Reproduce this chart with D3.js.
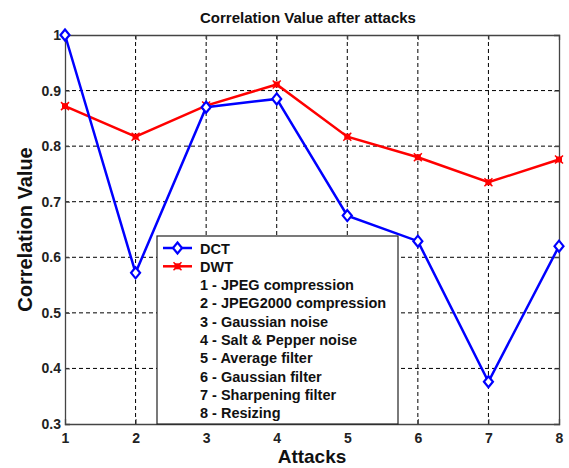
<!DOCTYPE html>
<html>
<head>
<meta charset="utf-8">
<script src="https://cdn.jsdelivr.net/npm/d3@7"></script>
<style>
  html, body { margin: 0; padding: 0; background: #fff; }
  svg { display: block; font-family: "Liberation Sans", Arial, sans-serif; }
</style>
</head>
<body>
<svg id="chart" width="569" height="468"></svg>
<script>
// Attack indices and correlation results for each watermarking scheme
const attacks = [1, 2, 3, 4, 5, 6, 7, 8];
const dctValues = [1.0, 0.572, 0.870, 0.885, 0.675, 0.629, 0.376, 0.620];
const dwtValues = [0.872, 0.817, 0.873, 0.911, 0.817, 0.780, 0.735, 0.776];
const yTicks = [0.3, 0.4, 0.5, 0.6, 0.7, 0.8, 0.9, 1];
const attackNames = [
  "1 - JPEG compression",
  "2 - JPEG2000 compression",
  "3 - Gaussian noise",
  "4 - Salt & Pepper noise",
  "5 - Average filter",
  "6 - Gaussian filter",
  "7 - Sharpening filter",
  "8 - Resizing"
];

const svg = d3.select("#chart");
const plot = { left: 65, right: 559, top: 35, bottom: 424 };

const x = d3.scaleLinear().domain([1, 8]).range([plot.left, plot.right]);
const y = d3.scaleLinear().domain([0.3, 1]).range([plot.bottom, plot.top]);

// Dashed grid
const grid = svg.append("g").attr("stroke", "#000").attr("stroke-width", 1)
  .attr("stroke-dasharray", "4,3");
grid.selectAll("line.v").data(attacks.slice(1, -1)).join("line")
  .attr("x1", d => x(d)).attr("x2", d => x(d))
  .attr("y1", plot.top).attr("y2", plot.bottom);
grid.selectAll("line.h").data(yTicks.slice(1, -1)).join("line")
  .attr("x1", plot.left).attr("x2", plot.right)
  .attr("y1", d => y(d)).attr("y2", d => y(d));

// Axes with inward ticks
const tickFmt = d => d === 1 ? "1" : d3.format(".1f")(d);
const xAxis = svg.append("g").attr("transform", `translate(0,${plot.bottom})`)
  .call(d3.axisBottom(x).tickValues(attacks).tickSize(-5).tickPadding(9).tickFormat(d3.format("d")));
const yAxis = svg.append("g").attr("transform", `translate(${plot.left},0)`)
  .call(d3.axisLeft(y).tickValues(yTicks).tickSize(-5).tickPadding(4).tickFormat(tickFmt));
const xTop = svg.append("g").attr("transform", `translate(0,${plot.top})`)
  .call(d3.axisTop(x).tickValues(attacks).tickSize(-5).tickFormat(""));
const yRight = svg.append("g").attr("transform", `translate(${plot.right},0)`)
  .call(d3.axisRight(y).tickValues(yTicks).tickSize(-5).tickFormat(""));
[xAxis, yAxis, xTop, yRight].forEach(g => {
  g.select(".domain").attr("stroke", "#444").attr("stroke-width", 1.3);
  g.selectAll(".tick line").attr("stroke", "#444");
  g.selectAll("text").attr("fill", "#222").attr("font-size", 14).attr("font-weight", "bold");
});

// Series lines
const line = d3.line().x((d, i) => x(attacks[i])).y(d => y(d));
svg.append("path").datum(dwtValues).attr("d", line)
  .attr("fill", "none").attr("stroke", "#ff0000").attr("stroke-width", 2.5);
svg.append("path").datum(dctValues).attr("d", line)
  .attr("fill", "none").attr("stroke", "#0000ff").attr("stroke-width", 2.5);

// Markers
function diamond(g, cx, cy) {
  g.append("path")
    .attr("d", `M${cx},${cy - 5.5}L${cx + 4.5},${cy}L${cx},${cy + 5.5}L${cx - 4.5},${cy}Z`)
    .attr("fill", "#fff").attr("stroke", "#0000ff").attr("stroke-width", 2.2);
}
function star(g, cx, cy) {
  g.append("rect").attr("x", cx - 3).attr("y", cy - 3).attr("width", 6).attr("height", 6)
    .attr("fill", "#ff0000");
  g.append("path").attr("d", `M${cx - 4},${cy - 4}L${cx + 4},${cy + 4}M${cx - 4},${cy + 4}L${cx + 4},${cy - 4}`)
    .attr("stroke", "#ff0000").attr("stroke-width", 1.5);
}
const mk = svg.append("g");
dwtValues.forEach((v, i) => star(mk, x(attacks[i]), y(v)));
dctValues.forEach((v, i) => diamond(mk, x(attacks[i]), y(v)));

// Legend
const lg = svg.append("g");
lg.append("rect").attr("x", 157).attr("y", 236).attr("width", 241).attr("height", plot.bottom - 236)
  .attr("fill", "#fff").attr("stroke", "#222").attr("stroke-width", 1.2);
const rowY = i => 248 + i * 18.3;
const legendText = ["DCT", "DWT"].concat(attackNames);
lg.selectAll("text").data(legendText).join("text")
  .attr("x", 200).attr("y", (d, i) => rowY(i) + 5.5)
  .attr("font-size", 14.5).attr("font-weight", "bold").attr("fill", "#111")
  .text(d => d);
lg.append("line").attr("x1", 163).attr("x2", 192).attr("y1", rowY(0)).attr("y2", rowY(0))
  .attr("stroke", "#0000ff").attr("stroke-width", 2.5);
diamond(lg, 177.5, rowY(0));
lg.append("line").attr("x1", 163).attr("x2", 192).attr("y1", rowY(1)).attr("y2", rowY(1))
  .attr("stroke", "#ff0000").attr("stroke-width", 2.5);
star(lg, 177.5, rowY(1));

// Titles
svg.append("text").attr("x", 308).attr("y", 23)
  .attr("text-anchor", "middle").attr("font-size", 15).attr("font-weight", "bold").attr("fill", "#111")
  .text("Correlation Value after attacks");
svg.append("text").attr("x", (plot.left + plot.right) / 2).attr("y", 463)
  .attr("text-anchor", "middle").attr("font-size", 19).attr("font-weight", "bold").attr("fill", "#111")
  .text("Attacks");
svg.append("text").attr("transform", `translate(32,${(plot.top + plot.bottom) / 2}) rotate(-90)`)
  .attr("text-anchor", "middle").attr("font-size", 20).attr("font-weight", "bold").attr("fill", "#111")
  .text("Correlation Value");
</script>
</body>
</html>
